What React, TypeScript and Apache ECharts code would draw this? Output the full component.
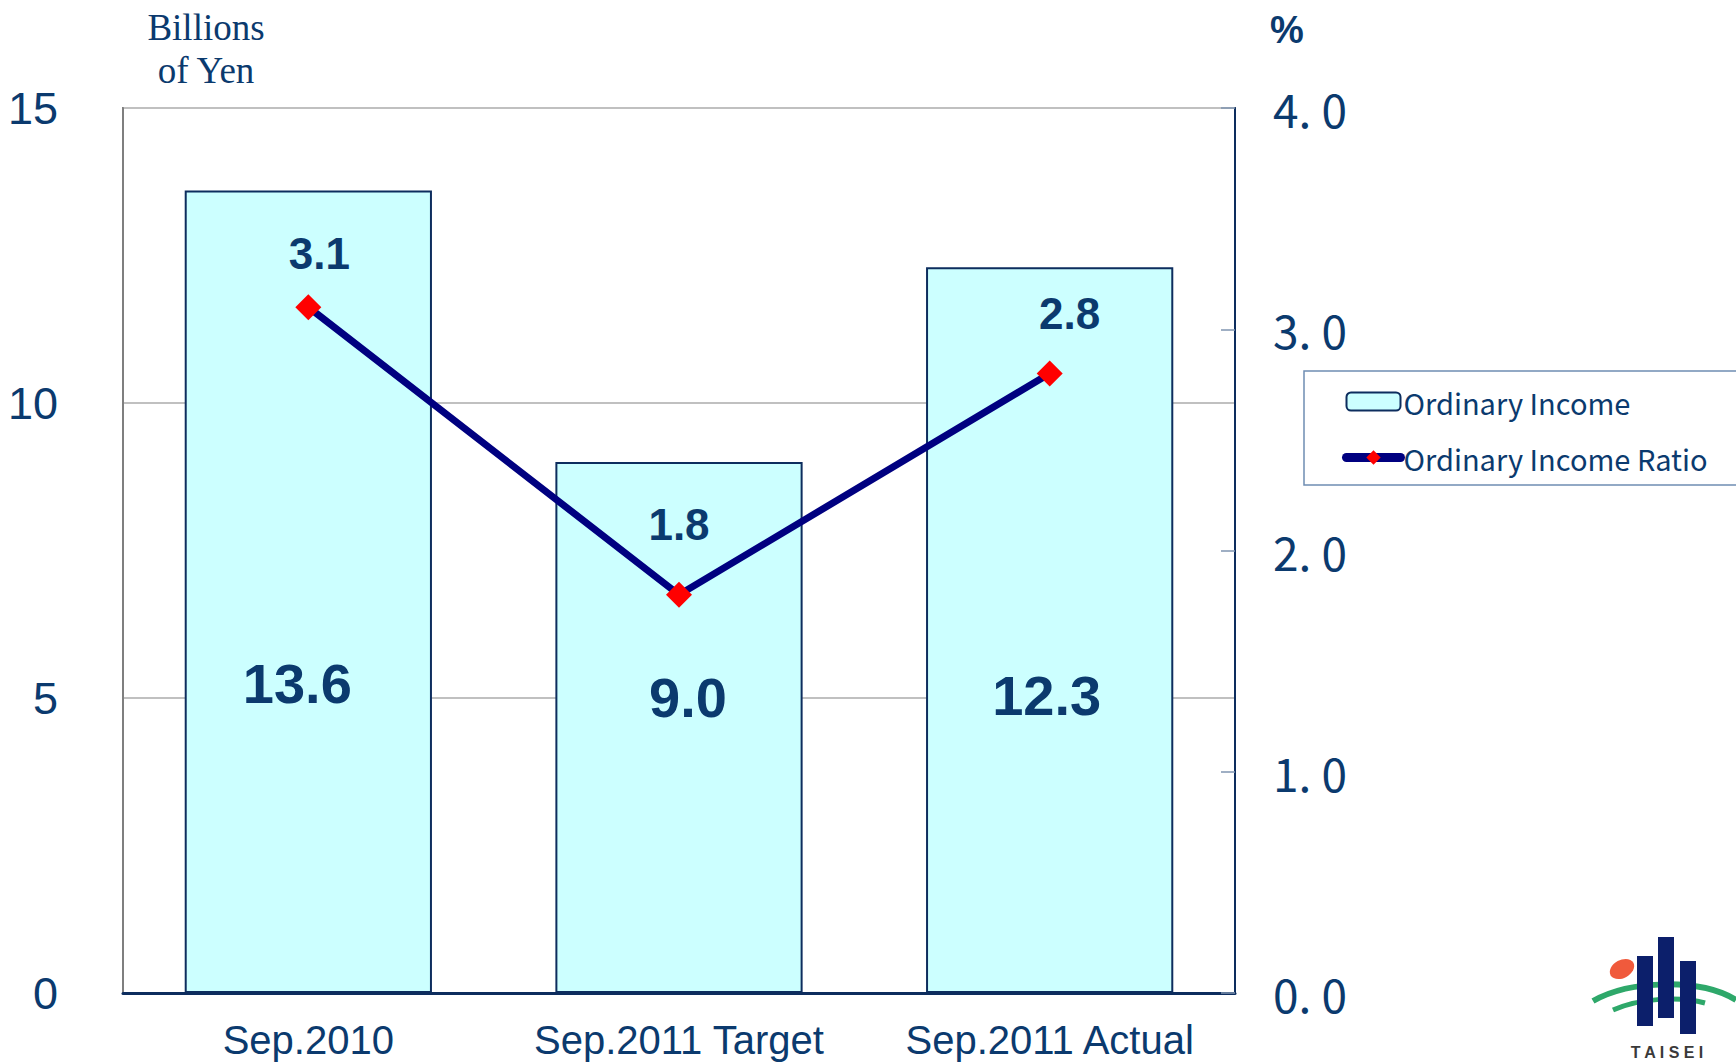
import React, { useEffect, useRef } from "react";
import * as echarts from "echarts";

const categories = ["Sep.2010", "Sep.2011 Target", "Sep.2011 Actual"];
const ordinaryIncome = [13.6, 9.0, 12.3];
const ordinaryIncomeRatio = [3.1, 1.8, 2.8];
const leftTicks = { min: 0, max: 15, interval: 5 };
const rightTicks = { min: 0, max: 4, interval: 1 };

const barLabelOffsets = [[-11, 0], [9, 14], [-3, 12]];
const lineLabelOffsets = [[11, 0], [0, -16], [20, -6]];

const NAVY_TEXT = "#0b3a6e";
const NARROW = "'Liberation Sans Narrow', 'Liberation Sans', Arial, sans-serif";
const JP = "'Noto Sans CJK JP', 'Noto Sans', sans-serif";

export default function App() {
  const ref = useRef<HTMLDivElement>(null);
  useEffect(() => {
    document.body.style.margin = "0";
    if (!ref.current) return;
    const chart = echarts.init(ref.current, undefined, { renderer: "svg" });
    chart.setOption({
      animation: false,
      backgroundColor: "#ffffff",
      grid: {
        left: 123,
        right: 501,
        top: 108,
        bottom: 69,
        show: true,
        borderColor: "#7f7f7f",
        borderWidth: 2,
        backgroundColor: "transparent",
      },
      legend: {
        orient: "vertical",
        left: 1304,
        top: 371,
        padding: [16, 200, 13, 38],
        itemGap: 27,
        itemWidth: 54,
        itemHeight: 18,
        borderColor: "#6f8db3",
        borderWidth: 1.5,
        textStyle: { fontFamily: JP, fontSize: 29, color: NAVY_TEXT, padding: [0, 0, 0, -2] },
        data: [
          { name: "Ordinary Income" },
          { name: "Ordinary Income Ratio", lineStyle: { width: 9, color: "#000080", cap: "round" } },
        ],
      },
      xAxis: {
        type: "category",
        data: categories,
        axisLine: { lineStyle: { color: "#0d2d5e", width: 3 } },
        axisTick: { show: false },
        axisLabel: { interval: 0, fontFamily: NARROW, fontSize: 40, color: NAVY_TEXT, margin: 27 },
      },
      yAxis: [
        {
          type: "value",
          ...leftTicks,
          position: "left",
          axisLine: { show: true, lineStyle: { color: "#7f7f7f", width: 2 } },
          axisTick: { show: false },
          splitLine: { show: true, lineStyle: { color: "#c0c0c0", width: 2 } },
          axisLabel: { fontFamily: NARROW, fontSize: 45, color: NAVY_TEXT, margin: 65 },
        },
        {
          type: "value",
          ...rightTicks,
          position: "right",
          axisLine: { show: true, lineStyle: { color: "#0d2d5e", width: 2 } },
          axisTick: { show: true, inside: true, length: 14, lineStyle: { color: "#7f94b0", width: 1.5 } },
          splitLine: { show: false },
          axisLabel: {
            fontFamily: JP,
            fontSize: 46,
            color: NAVY_TEXT,
            margin: 38,
            formatter: (v: number) => v.toFixed(1).replace(".", ". "),
          },
        },
      ],
      series: [
        {
          name: "Ordinary Income",
          type: "bar",
          yAxisIndex: 0,
          barWidth: "66.7%",
          data: ordinaryIncome.map((v, i) => ({
            value: v,
            label: { offset: barLabelOffsets[i] },
          })),
          itemStyle: { color: "#ccffff", borderColor: "#0d2d5e", borderWidth: 2 },
          label: {
            show: true,
            position: "insideBottom",
            distance: 282,
            fontFamily: NARROW,
            fontWeight: "bold",
            fontSize: 56,
            color: NAVY_TEXT,
            formatter: (p: any) => Number(p.value).toFixed(1),
          },
          z: 2,
        },
        {
          name: "Ordinary Income Ratio",
          type: "line",
          yAxisIndex: 1,
          data: ordinaryIncomeRatio.map((v, i) => ({
            value: v,
            label: { offset: lineLabelOffsets[i] },
          })),
          lineStyle: { color: "#000080", width: 7 },
          itemStyle: { color: "#ff0000", borderWidth: 0 },
          symbol: "diamond",
          symbolSize: 26,
          label: {
            show: true,
            position: "top",
            distance: 19,
            fontFamily: NARROW,
            fontWeight: "bold",
            fontSize: 44,
            color: NAVY_TEXT,
            formatter: (p: any) => Number(p.value).toFixed(1),
          },
          z: 3,
        },
      ],
      graphic: [
        {
          type: "text",
          x: 206,
          y: 6,
          style: {
            text: "Billions\nof Yen",
            fontFamily: "'Liberation Serif', 'Times New Roman', serif",
            fontSize: 37,
            lineHeight: 43,
            fill: NAVY_TEXT,
            align: "center",
            verticalAlign: "top",
          },
        },
        {
          type: "text",
          x: 1287,
          y: 30,
          style: {
            text: "%",
            fontFamily: "'Liberation Sans', Arial, sans-serif",
            fontWeight: "bold",
            fontSize: 38,
            fill: NAVY_TEXT,
            align: "center",
            verticalAlign: "middle",
          },
        },
        {
          type: "group",
          children: [
            {
              type: "ellipse",
              x: 1622,
              y: 969,
              rotation: 0.5,
              shape: { cx: 0, cy: 0, rx: 13, ry: 9 },
              style: { fill: "#f05a3c" },
            },
            {
              type: "bezierCurve",
              shape: { x1: 1593, y1: 1001, x2: 1736, y2: 1000, cpx1: 1630, cpy1: 980, cpx2: 1700, cpy2: 978 },
              style: { stroke: "#2ea86a", lineWidth: 6, fill: "none" },
            },
            {
              type: "bezierCurve",
              shape: { x1: 1613, y1: 1010, x2: 1705, y2: 1003, cpx1: 1640, cpy1: 998, cpx2: 1680, cpy2: 996 },
              style: { stroke: "#2ea86a", lineWidth: 5, fill: "none" },
            },
            { type: "rect", shape: { x: 1637, y: 956, width: 16, height: 70 }, style: { fill: "#0c1f6b" } },
            { type: "rect", shape: { x: 1658, y: 937, width: 16, height: 81 }, style: { fill: "#0c1f6b" } },
            { type: "rect", shape: { x: 1680, y: 961, width: 16, height: 73 }, style: { fill: "#0c1f6b" } },
            {
              type: "text",
              x: 1667,
              y: 1052,
              style: {
                text: "T A I S E I",
                fontFamily: "'Liberation Sans', Arial, sans-serif",
                fontWeight: "bold",
                fontSize: 16,
                fill: "#3a3a3a",
                align: "center",
                verticalAlign: "middle",
              },
            },
          ],
        },
      ],
    });
    return () => chart.dispose();
  }, []);
  return <div ref={ref} style={{ width: 1736, height: 1062 }} />;
}
